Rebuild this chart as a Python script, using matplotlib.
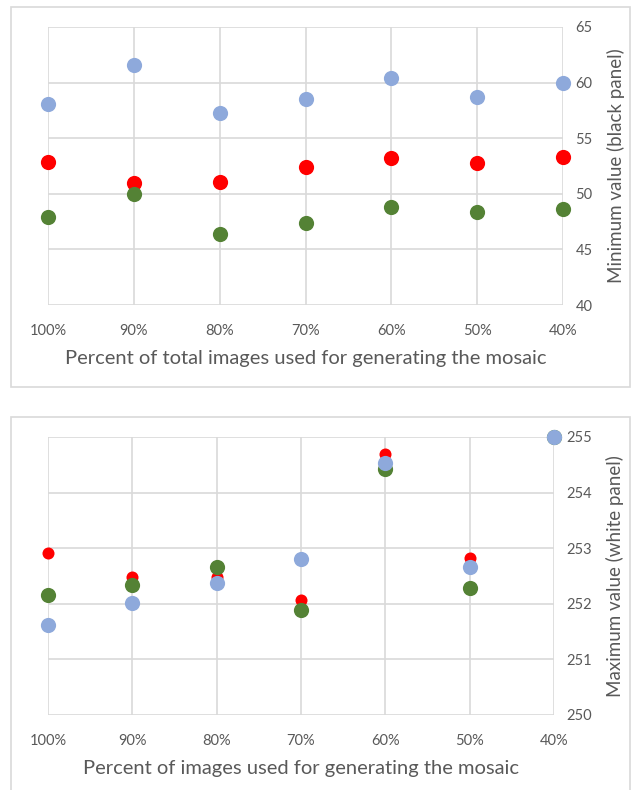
import matplotlib
matplotlib.use("Agg")
import matplotlib.pyplot as plt
from matplotlib.patches import Rectangle

plt.rcParams["font.family"] = ["Lato", "DejaVu Sans"]

# ---- data ----
categories = ["100%", "90%", "80%", "70%", "60%", "50%", "40%"]

# top panel: minimum value (black panel)
min_blue = [58.1, 61.6, 57.3, 58.5, 60.45, 58.7, 60.0]
min_red = [52.9, 51.0, 51.1, 52.4, 53.25, 52.8, 53.3]
min_green = [47.9, 49.94, 46.4, 47.4, 48.8, 48.4, 48.6]

# bottom panel: maximum value (white panel)
max_red = [252.92, 252.49, 252.49, 252.06, 254.70, 252.83, 255.0]
max_green = [252.15, 252.33, 252.66, 251.88, 254.43, 252.29, 255.0]
max_blue = [251.62, 252.01, 252.38, 252.80, 254.53, 252.66, 255.0]

BLUE = "#8EA9DB"
RED = "#FF0000"
GREEN = "#548235"
GRID = "#D9D9D9"
TXT = "#595959"

W, H = 633, 790
fig = plt.figure(figsize=(W / 100, H / 100), dpi=100)


def px_axes(x0, y0, x1, y1):
    # pixel box (top-left origin) -> figure fraction
    return fig.add_axes([x0 / W, 1 - y1 / H, (x1 - x0) / W, (y1 - y0) / H])


def border(x0, y0, x1, y1):
    fig.patches.append(Rectangle((x0 / W, 1 - y1 / H), (x1 - x0) / W, (y1 - y0) / H,
                                 transform=fig.transFigure, fill=False,
                                 edgecolor=GRID, linewidth=1.2))


def style(ax, ylim, yticks, ylabel, xlabel):
    x = list(range(len(categories)))
    ax.set_xlim(0, len(categories) - 1)
    ax.set_ylim(*ylim)
    ax.set_xticks(x)
    ax.set_xticklabels(categories)
    ax.set_yticks(yticks)
    ax.yaxis.tick_right()
    ax.yaxis.set_label_position("right")
    ax.grid(True, color=GRID, linewidth=1.2)
    ax.set_axisbelow(True)
    for s in ax.spines.values():
        s.set_visible(False)
    ax.tick_params(length=0, labelsize=10.5, colors=TXT)
    ax.tick_params(axis="x", pad=14)
    ax.tick_params(axis="y", pad=9)
    ax.set_ylabel(ylabel, fontsize=13.5, color=TXT, labelpad=10)
    ax.set_xlabel(xlabel, fontsize=14.5, color=TXT, labelpad=8)


# ---- top panel ----
border(11, 7, 630, 387)
ax1 = px_axes(48, 27, 563, 305)
x = list(range(len(categories)))
ax1.scatter(x, min_red, s=120, color=RED, zorder=3, linewidths=0)
ax1.scatter(x, min_green, s=120, color=GREEN, zorder=3, linewidths=0)
ax1.scatter(x, min_blue, s=120, color=BLUE, zorder=3, linewidths=0)
style(ax1, (40, 65), range(40, 66, 5), "Minimum value (black panel)",
      "Percent of total images used for generating the mosaic")

# ---- bottom panel ----
border(11, 417, 630, 800)
ax2 = px_axes(48, 437, 554, 715)
ax2.scatter(x, max_red, s=75, color=RED, zorder=3, linewidths=0)
ax2.scatter(x, max_green, s=120, color=GREEN, zorder=3, linewidths=0)
ax2.scatter(x, max_blue, s=120, color=BLUE, zorder=3, linewidths=0)
style(ax2, (250, 255), range(250, 256), "Maximum value (white panel)",
      "Percent of images used for generating the mosaic")
for a in (ax1, ax2):
    for c in a.collections:
        c.set_clip_on(False)

fig.savefig("out.png", dpi=100)
